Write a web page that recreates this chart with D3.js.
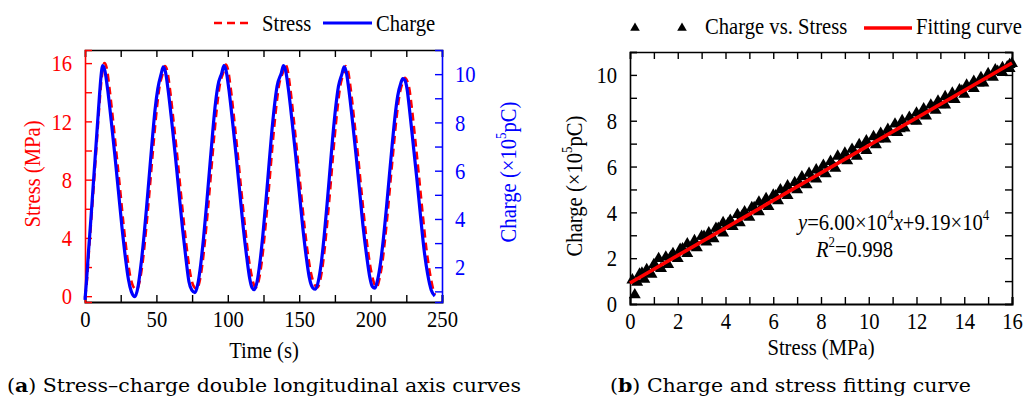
<!DOCTYPE html>
<html>
<head>
<meta charset="utf-8">
<script src="https://cdn.jsdelivr.net/npm/d3@7"></script>
<style>
body { margin: 0; background: #fff; }
svg { display: block; }
</style>
</head>
<body>
<svg id="chart" width="1027" height="403"></svg>
<script>
// (a) stress / charge vs time
var chargeT = [0,1,2.5,4,6,8,10,11.2,12.4,13.9,15.9,18.4,20.9,23.4,25.9,28.4,30.4,32.4,35,
	37,39,41,43,45,47,49,51,53.3,54.8,56.3,58.3,60.8,63.3,65.8,68.3,70.8,72.8,74.8,77,
	79,81,83,85,87,89,91,93,95.8,97.3,98.8,100.8,103.3,105.8,108.3,110.8,113.3,115.3,117,118.5,
	120.5,122.5,124.5,126.5,128.5,130.5,132.5,134.5,137.5,139,140.5,142.5,145,147.5,150,152.5,155,157,159.5,161.5,
	163.5,165.5,167.5,169.5,171.5,173.5,175.5,177.5,179.9,181.4,182.9,184.9,187.4,189.9,192.4,194.9,197.4,199.4,201.2,203,
	205,207,209,211,213,215,217,219,221.3,222.5,224,225.5,227.5,230,232.5,235,237.5,240,242.5,245];
var chargeV = [0.65,1.4,2.7,3.9,5.6,7.3,9.0,9.9,10.35,10.15,9.35,8.05,6.65,5.15,3.65,2.35,1.5,1.0,0.78,
	1.15,2.0,3.1,4.4,5.8,7.2,8.5,9.4,10.0,10.3,10.1,9.3,8.0,6.6,5.1,3.6,2.3,1.4,1.05,0.95,
	1.3,2.1,3.2,4.5,5.9,7.3,8.6,9.5,10.05,10.35,10.15,9.35,8.05,6.65,5.15,3.65,2.4,1.55,1.15,1.07,
	1.4,2.2,3.3,4.6,6.0,7.4,8.6,9.5,10.05,10.35,10.15,9.35,8.05,6.65,5.15,3.65,2.4,1.6,1.15,1.09,
	1.45,2.2,3.3,4.6,6.0,7.4,8.6,9.5,10.0,10.3,10.1,9.3,8.0,6.6,5.1,3.6,2.4,1.6,1.2,1.13,
	1.5,2.2,3.2,4.4,5.7,7.0,8.2,9.1,9.65,9.82,9.75,9.4,8.4,7.0,5.6,4.1,2.7,1.7,1.05,0.81];

var stressT = [0,1.2,2.7,4.2,6.2,8.2,10.2,11.7,13.6,15.1,17.1,19.6,22.1,24.6,27.1,29.6,31.6,33.6,36.2,
	38.2,40.2,42.2,44.2,46.2,48.2,50.2,52.2,54.5,56,57.5,59.5,62,64.5,67,69.5,72,74,76,78.2,
	80.2,82.2,84.2,86.2,88.2,90.2,92.2,94.2,97,98.5,100,102,104.5,107,109.5,112,114.5,116.5,118.2,119.7,
	121.7,123.7,125.7,127.7,129.7,131.7,133.7,135.7,138.7,140.2,141.7,143.7,146.2,148.7,151.2,153.7,156.2,158.2,160.7,162.7,
	164.7,166.7,168.7,170.7,172.7,174.7,176.7,178.7,181.1,182.6,184.1,186.1,188.6,191.1,193.6,196.1,198.6,200.6,202.4,204.2,
	206.2,208.2,210.2,212.2,214.2,216.2,218.2,220.2,222.5,224,225.5,227,229,231.5,234,236.5,239,241.5,243.5,245];
var stressV = [-0.1,0.9,3.0,5.0,7.7,10.5,13.3,15.0,16.0,15.7,14.3,12.1,9.7,7.3,4.8,2.7,1.4,0.7,0.45,
	1.0,2.2,4.0,6.1,8.4,10.7,12.8,14.4,15.3,15.8,15.5,14.2,12.0,9.7,7.2,4.8,2.7,1.4,0.7,0.5,
	1.0,2.2,4.0,6.1,8.4,10.7,12.8,14.4,15.4,15.9,15.6,14.3,12.1,9.7,7.2,4.8,2.7,1.5,0.8,0.6,
	1.1,2.3,4.1,6.2,8.5,10.8,12.8,14.4,15.4,15.9,15.6,14.3,12.1,9.7,7.2,4.8,2.8,1.6,0.8,0.6,
	1.1,2.3,4.1,6.2,8.5,10.8,12.8,14.4,15.3,15.8,15.5,14.2,12.0,9.7,7.2,4.8,2.8,1.6,0.9,0.6,
	1.2,2.3,4.0,6.0,8.2,10.3,12.3,13.8,14.7,15.0,14.8,14.3,12.8,10.5,8.1,5.6,3.3,1.6,0.6,0.1];

var timeTicks = [0,25,50,75,100,125,150,175,200,225,250];
var stressTicks = [0,2,4,6,8,10,12,14,16];
var chargeTicks = [1,2,3,4,5,6,7,8,9,10];

// (b) charge vs stress scatter + fit
var scatterStress = [0.1,0.4,0.7,1.0,1.2,1.5,1.8,2.1,2.4,2.7,3.0,3.3,3.6,3.9,4.2,4.5,4.8,5.1,5.4,5.7,6.0,6.3,6.6,6.9,7.2,7.5,7.8,8.1,8.4,8.7,9.0,9.3,9.6,9.9,10.2,10.5,10.8,11.1,11.4,11.7,12.0,12.3,12.6,12.9,13.2,13.5,13.8,14.1,14.4,14.7,15.0,15.3,15.6,15.9,
	0.2,0.3,0.6,0.9,1.3,1.6,2.0,2.4,2.8,3.2,3.5,3.9,4.3,4.6,5.0,5.4,5.8,6.2,6.6,7.0,7.4,7.8,8.2,8.6,9.1,9.5,9.9,10.3,10.7,11.2,11.5,12.0,12.4,12.8,13.2,13.6,14.0,14.4,14.8,15.2,15.6,15.9,
	0.5,1.1,1.7,2.2,2.6,3.1,3.7,4.1,4.7,5.2,5.6,6.1,6.5,7.1,7.6,8.0,8.5,8.9,9.4,9.8,10.4,10.9,11.3,11.8,12.2,12.7,13.0,13.4,13.9,14.3,14.6,15.0,15.4,15.8,16.0];
var scatterCharge = [1.05,1.3,1.5,1.72,1.98,2.05,2.2,2.38,2.62,2.76,2.95,3.1,3.3,3.55,3.65,3.9,4.02,4.2,4.45,4.6,4.75,4.98,5.15,5.3,5.55,5.7,5.85,6.05,6.22,6.45,6.58,6.75,6.95,7.12,7.3,7.45,7.62,7.85,8.0,8.15,8.33,8.52,8.68,8.85,9.05,9.2,9.35,9.55,9.72,9.88,10.05,10.22,10.32,10.45,
	0.4,0.95,1.08,1.3,1.55,1.72,1.98,2.2,2.45,2.7,2.85,3.1,3.38,3.55,3.78,4.03,4.25,4.5,4.73,4.98,5.2,5.45,5.68,5.92,6.25,6.45,6.7,6.95,7.2,7.48,7.68,7.97,8.2,8.45,8.68,8.92,9.15,9.4,9.65,9.9,10.1,10.28,
	1.35,1.6,2.05,2.4,2.5,2.95,3.3,3.5,3.85,4.2,4.35,4.72,4.85,5.25,5.5,5.75,6.05,6.3,6.6,6.85,7.2,7.5,7.65,8.0,8.25,8.55,8.7,8.95,9.3,9.5,9.65,9.95,10.15,10.35,10.5];
var fitSlope = 0.600, fitIntercept = 0.919;  // in 10^5 pC
var fitStress = [0, 16];
var xTicksB = [0,1,2,3,4,5,6,7,8,9,10,11,12,13,14,15,16];
var yTicksB = [0,1,2,3,4,5,6,7,8,9,10,11];

var RED = '#ff0000', BLUE = '#0000ff';
var FONT = "'Liberation Serif', 'Times New Roman', serif";
var SX = 0.86;

var svg = d3.select('#chart');

function label(g, x, y, str, opts) {
	opts = opts || {};
	var t = g.append('text')
		.attr('transform', 'translate(' + x + ',' + y + ')' + (opts.rotate ? ' rotate(' + opts.rotate + ')' : '') + ' scale(' + SX + ',1)')
		.style('font-family', FONT)
		.attr('font-size', opts.size || 24)
		.attr('fill', opts.fill || '#000')
		.attr('text-anchor', opts.anchor || 'start');
	return t;
}

function styleAxis(g, color) {
	g.attr('font-family', null);
	g.select('.domain').attr('stroke', color).attr('stroke-width', 1.6);
	g.selectAll('.tick line').attr('stroke', color).attr('stroke-width', 1.4);
	g.selectAll('.tick text')
		.style('font-family', FONT)
		.attr('font-size', 24)
		.attr('fill', color)
		.attr('transform', 'scale(' + SX + ',1)');
}

// ---------- (a) ----------
var x = d3.scaleLinear().domain([0, 250]).range([85, 442]);
var yS = d3.scaleLinear().domain([-0.4, 16.9]).range([302, 50]);
var yC = d3.scaleLinear().domain([0.56, 11]).range([302, 50]);

var gA = svg.append('g');

gA.append('g').attr('transform', 'translate(0,50)')
	.call(d3.axisTop(x).tickValues(timeTicks).tickSize(-7).tickFormat(''))
	.call(styleAxis, '#000');
gA.append('g').attr('transform', 'translate(0,302)')
	.call(d3.axisBottom(x).tickValues(timeTicks).tickSize(-7).tickPadding(8)
		.tickFormat(function(d) { return d % 50 === 0 ? d : ''; }))
	.call(styleAxis, '#000')
	.call(function(g) { g.select('.domain').attr('stroke-width', 2); });
gA.append('g').attr('transform', 'translate(85,0)')
	.call(d3.axisLeft(yS).tickValues(stressTicks).tickSize(-7).tickPadding(15)
		.tickFormat(function(d) { return d % 4 === 0 ? d : ''; }))
	.call(styleAxis, RED);
gA.append('g').attr('transform', 'translate(442,0)')
	.call(d3.axisRight(yC).tickValues(chargeTicks).tickSize(-7).tickPadding(15)
		.tickFormat(function(d) { return d % 2 === 0 ? d : ''; }))
	.call(styleAxis, BLUE);

var stressLine = d3.line()
	.x(function(d, i) { return x(stressT[i]); })
	.y(function(d) { return yS(d); })
	.curve(d3.curveMonotoneX);
var chargeLine = d3.line()
	.x(function(d, i) { return x(chargeT[i]); })
	.y(function(d) { return yC(d); })
	.curve(d3.curveMonotoneX);

gA.append('path').datum(stressV)
	.attr('d', stressLine)
	.attr('fill', 'none').attr('stroke', RED)
	.attr('stroke-width', 2.6).attr('stroke-dasharray', '8,5');
gA.append('path').datum(chargeV)
	.attr('d', chargeLine)
	.attr('fill', 'none').attr('stroke', BLUE)
	.attr('stroke-width', 3.2);

// legend (a)
gA.append('line').attr('x1', 214).attr('x2', 253).attr('y1', 23).attr('y2', 23)
	.attr('stroke', RED).attr('stroke-width', 2.6).attr('stroke-dasharray', '8,5');
label(gA, 262, 31).text('Stress');
gA.append('line').attr('x1', 323).attr('x2', 372).attr('y1', 23).attr('y2', 23)
	.attr('stroke', BLUE).attr('stroke-width', 3.2);
label(gA, 376, 31).text('Charge');

label(gA, 264, 358, null, { anchor: 'middle' }).text('Time (s)');
label(gA, 40, 174, null, { anchor: 'middle', rotate: -90, fill: RED }).text('Stress (MPa)');
var rl = label(gA, 516, 172, null, { anchor: 'middle', rotate: -90, fill: BLUE });
rl.append('tspan').text('Charge (×10');
rl.append('tspan').attr('font-size', 15).attr('dy', -10).text('5');
rl.append('tspan').attr('dy', 10).text('pC)');

// ---------- (b) ----------
var xb = d3.scaleLinear().domain([0, 16]).range([630, 1012]);
var yb = d3.scaleLinear().domain([0, 11]).range([304, 52]);
var gB = svg.append('g');

gB.append('g').attr('transform', 'translate(0,52)')
	.call(d3.axisTop(xb).tickValues(xTicksB).tickSize(-7).tickFormat(''))
	.call(styleAxis, '#000');
gB.append('g').attr('transform', 'translate(0,304)')
	.call(d3.axisBottom(xb).tickValues(xTicksB).tickSize(-7).tickPadding(8)
		.tickFormat(function(d) { return d % 2 === 0 ? d : ''; }))
	.call(styleAxis, '#000')
	.call(function(g) { g.select('.domain').attr('stroke-width', 2); });
gB.append('g').attr('transform', 'translate(630,0)')
	.call(d3.axisLeft(yb).tickValues(yTicksB).tickSize(-7).tickPadding(15)
		.tickFormat(function(d) { return d % 2 === 0 ? d : ''; }))
	.call(styleAxis, '#000');
gB.append('g').attr('transform', 'translate(1012,0)')
	.call(d3.axisRight(yb).tickValues(yTicksB).tickSize(-7).tickFormat(''))
	.call(styleAxis, '#000');

var tri = d3.symbol().type(d3.symbolTriangle).size(62);
gB.append('g').selectAll('path')
	.data(scatterStress)
	.enter()
	.append('path')
	.attr('d', tri)
	.attr('transform', function(d, i) { return 'translate(' + xb(d) + ',' + yb(scatterCharge[i]) + ')'; })
	.attr('fill', '#000');

gB.append('path').datum(fitStress)
	.attr('d', d3.line()
		.x(function(d) { return xb(d); })
		.y(function(d) { return yb(fitSlope * d + fitIntercept); }))
	.attr('stroke', RED).attr('stroke-width', 3.6).attr('fill', 'none');

// legend (b)
[635, 682].forEach(function(px) {
	gB.append('path').attr('d', d3.symbol().type(d3.symbolTriangle).size(40))
		.attr('transform', 'translate(' + px + ',28)').attr('fill', '#000');
});
label(gB, 705, 34).text('Charge vs. Stress');
gB.append('line').attr('x1', 864).attr('x2', 912).attr('y1', 28).attr('y2', 28)
	.attr('stroke', RED).attr('stroke-width', 3.6);
label(gB, 916, 34).text('Fitting curve');

label(gB, 821, 355, null, { anchor: 'middle' }).text('Stress (MPa)');
var bl = label(gB, 582, 186, null, { anchor: 'middle', rotate: -90 });
bl.append('tspan').text('Charge (×10');
bl.append('tspan').attr('font-size', 15).attr('dy', -10).text('5');
bl.append('tspan').attr('dy', 10).text('pC)');

var eq = label(gB, 798, 230);
eq.append('tspan').attr('font-style', 'italic').text('y');
eq.append('tspan').text('=6.00×10');
eq.append('tspan').attr('font-size', 15).attr('dy', -10).text('4');
eq.append('tspan').attr('dy', 10).attr('font-style', 'italic').text('x');
eq.append('tspan').text('+9.19×10');
eq.append('tspan').attr('font-size', 15).attr('dy', -10).text('4');
var r2 = label(gB, 816, 257);
r2.append('tspan').attr('font-style', 'italic').text('R');
r2.append('tspan').attr('font-size', 15).attr('dy', -10).text('2');
r2.append('tspan').attr('dy', 10).text('=0.998');

// captions
var capA = svg.append('text').attr('x', 7).attr('y', 392)
	.style('font-family', "'DejaVu Serif', serif").attr('font-size', 19)
	.attr('textLength', 514).attr('lengthAdjust', 'spacingAndGlyphs');
capA.append('tspan').text('(');
capA.append('tspan').attr('font-weight', 'bold').text('a');
capA.append('tspan').text(') Stress–charge double longitudinal axis curves');
var capB = svg.append('text').attr('x', 610).attr('y', 392)
	.style('font-family', "'DejaVu Serif', serif").attr('font-size', 19)
	.attr('textLength', 361).attr('lengthAdjust', 'spacingAndGlyphs');
capB.append('tspan').text('(');
capB.append('tspan').attr('font-weight', 'bold').text('b');
capB.append('tspan').text(') Charge and stress fitting curve');
</script>
</body>
</html>
